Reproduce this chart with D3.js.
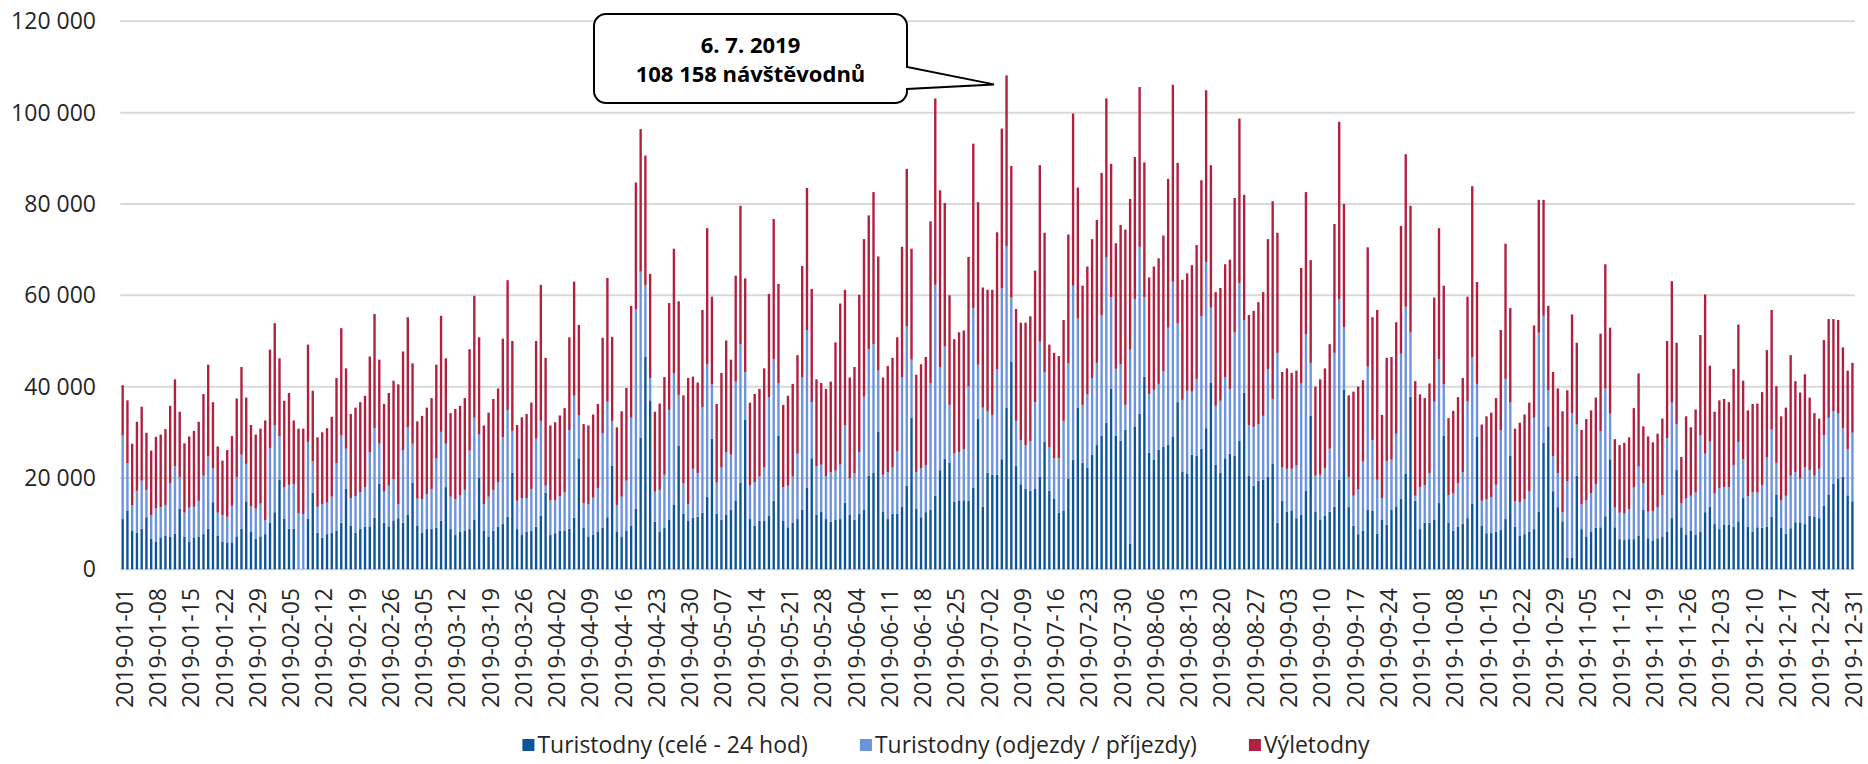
<!DOCTYPE html>
<html>
<head>
<meta charset="utf-8">
<script src="https://cdn.jsdelivr.net/npm/d3@7"></script>
<style>
  body { margin: 0; background: #fff; }
  svg { display: block; font-family: "Open Sans", "Noto Sans", sans-serif; }
</style>
</head>
<body>
<svg id="chart" width="1868" height="764"></svg>
<script>

// daily values in thousands, 2019-01-01 .. 2019-12-31 (one row = one week)
var celeDny = [
  11.0, 12.9, 8.5, 8.0, 8.9, 11.4, 6.7,
  6.1, 7.0, 7.3, 7.2, 7.8, 13.3, 7.2,
  6.1, 7.0, 7.2, 7.7, 8.9, 14.7, 7.4,
  6.1, 5.9, 5.9, 7.2, 8.9, 14.9, 8.3,
  6.7, 7.2, 7.7, 10.2, 12.5, 19.6, 11.1,
  8.9, 8.9, 0, 0, 11.1, 16.8, 8.0,
  6.9, 7.7, 8.0, 8.5, 10.2, 17.6, 9.5,
  8.0, 8.9, 9.3, 9.4, 11.3, 18.7, 10.2,
  9.4, 10.7, 11.2, 10.2, 12.0, 19.0, 9.6,
  8.0, 8.8, 8.9, 9.1, 10.6, 18.0, 8.8,
  7.5, 8.2, 8.4, 8.8, 10.8, 20.0, 8.4,
  7.2, 8.4, 9.3, 9.9, 11.5, 21.2, 8.8,
  7.5, 8.2, 8.4, 9.3, 11.7, 16.8, 7.5,
  7.9, 8.5, 8.5, 8.9, 11.3, 24.3, 9.1,
  7.2, 7.6, 8.3, 9.1, 11.4, 22.7, 8.3,
  7.2, 8.5, 9.6, 13.3, 28.8, 46.5, 37.0,
  10.4, 8.3, 9.1, 10.9, 14.2, 27.1, 12.2,
  10.7, 11.3, 11.5, 12.4, 15.9, 28.6, 12.2,
  10.9, 12.0, 13.1, 15.1, 19.0, 32.8, 11.0,
  9.6, 10.6, 10.6, 11.7, 15.0, 29.2, 10.6,
  9.2, 10.2, 11.0, 13.0, 17.9, 24.3, 11.9,
  12.6, 11.0, 10.4, 10.8, 11.0, 14.6, 11.9,
  10.8, 12.1, 13.0, 20.5, 21.1, 30.2, 12.6,
  11.0, 12.2, 12.2, 13.7, 18.3, 33.2, 13.2,
  11.4, 12.5, 13.0, 16.1, 21.7, 24.2, 23.3,
  14.8, 15.1, 15.1, 15.0, 17.9, 32.9, 13.7,
  21.1, 20.7, 20.7, 24.1, 35.4, 45.4, 22.6,
  18.6, 17.6, 17.2, 17.6, 20.2, 27.9, 17.2,
  15.4, 12.4, 12.9, 19.8, 24.0, 35.4, 23.3,
  22.2, 25.1, 27.2, 29.3, 32.1, 39.6, 29.3,
  28.2, 30.6, 5.6, 31.3, 34.1, 42.2, 25.5,
  24.0, 26.2, 26.8, 27.2, 29.1, 36.6, 21.3,
  20.9, 25.1, 24.8, 26.4, 30.9, 40.8, 22.9,
  21.1, 24.3, 25.3, 24.8, 28.2, 38.7, 20.5,
  18.3, 19.4, 19.6, 20.2, 23.2, 10.2, 15.0,
  12.6, 12.9, 11.2, 11.9, 17.2, 33.6, 12.6,
  10.8, 11.7, 12.6, 13.7, 19.6, 39.3, 13.7,
  9.5, 7.7, 8.4, 13.0, 12.8, 7.8, 10.8,
  9.8, 13.0, 13.8, 15.4, 21.0, 37.8, 15.0,
  8.8, 10.2, 10.2, 10.8, 14.5, 29.3, 10.2,
  8.4, 9.3, 10.0, 11.2, 14.4, 29.1, 9.6,
  7.9, 8.0, 8.2, 8.6, 11.0, 24.8, 9.3,
  7.3, 7.7, 8.2, 8.8, 12.6, 27.7, 31.3,
  17.1, 13.6, 10.5, 2.5, 2.6, 20.5, 8.8,
  7.2, 8.3, 9.1, 9.2, 11.6, 24.1, 9.2,
  6.6, 6.4, 6.6, 6.6, 7.4, 13.1, 6.8,
  6.2, 6.8, 7.2, 8.2, 11.2, 21.8, 9.2,
  7.5, 8.5, 7.5, 8.2, 12.5, 13.7, 9.9,
  8.8, 9.7, 9.7, 9.3, 10.5, 15.6, 9.3,
  8.3, 9.2, 9.1, 9.3, 11.5, 16.4, 9.1,
  7.8, 9.0, 10.3, 10.3, 9.9, 11.7, 11.5,
  11.2, 13.9, 16.4, 18.7, 19.9, 20.2, 16.2,
  14.9
];

var odjezdyDny = [
  18.3, 10.3, 5.5, 9.2, 10.5, 6.0, 5.2,
  7.3, 6.6, 6.8, 11.6, 14.8, 6.9, 5.2,
  7.4, 6.7, 7.8, 12.8, 15.8, 7.4, 5.0,
  5.8, 5.6, 8.0, 13.0, 16.2, 8.2, 5.5,
  6.6, 7.2, 3.1, 16.3, 19.1, 9.5, 6.9,
  9.6, 9.7, 12.3, 12.1, 16.8, 6.9, 5.7,
  7.4, 6.9, 7.9, 14.7, 19.2, 8.8, 6.1,
  8.0, 8.0, 8.7, 16.2, 19.6, 8.8, 6.8,
  8.9, 9.0, 3.0, 15.8, 19.1, 8.5, 5.9,
  7.4, 7.7, 8.6, 15.2, 19.5, 9.5, 7.1,
  7.8, 8.0, 9.0, 17.2, 22.4, 9.5, 5.9,
  8.7, 9.0, 9.8, 19.0, 23.4, 9.1, 6.2,
  8.1, 7.4, 9.2, 19.3, 20.8, 1.5, 7.6,
  7.2, 7.5, 8.4, 21.6, 26.7, 9.4, 5.4,
  7.1, 8.1, 9.5, 20.7, 25.3, 9.8, 5.8,
  8.7, 10.9, 23.6, 43.7, 36.4, 15.7, 4.9,
  6.6, 9.1, 11.6, 24.0, 28.7, 11.1, 6.7,
  3.6, 10.7, 9.6, 23.1, 29.0, 11.9, 6.8,
  11.5, 13.7, 12.0, 26.0, 30.3, 10.4, 7.4,
  9.5, 9.7, 11.8, 26.0, 31.0, 11.6, 7.4,
  9.1, 10.1, 14.3, 29.1, 34.5, 12.3, 10.7,
  10.3, 9.4, 10.9, 10.8, 12.0, 17.0, 8.0,
  10.2, 13.6, 24.8, 27.7, 28.2, 13.3, 8.1,
  10.3, 10.1, 13.7, 28.4, 34.9, 12.7, 8.1,
  10.7, 10.3, 27.8, 46.2, 22.6, 24.6, 12.7,
  10.6, 10.6, 11.2, 25.0, 39.3, 11.9, 21.7,
  13.5, 13.1, 23.1, 37.4, 35.4, 14.1, 9.9,
  9.7, 9.6, 10.9, 19.0, 29.7, 15.3, 9.5,
  8.9, 11.9, 19.6, 25.3, 38.1, 19.5, 12.7,
  16.1, 16.8, 18.0, 26.4, 36.2, 20.0, 14.6,
  16.7, 5.4, 42.5, 27.9, 36.5, 17.4, 12.9,
  15.3, 14.4, 16.6, 25.7, 33.9, 17.3, 15.8,
  18.2, 13.8, 16.9, 29.0, 36.4, 16.5, 12.9,
  15.8, 17.8, 14.2, 27.1, 34.5, 15.9, 11.1,
  12.9, 12.4, 14.0, 23.6, 14.1, 37.2, 7.4,
  9.4, 9.1, 11.6, 28.9, 34.3, 11.6, 7.9,
  9.9, 10.4, 13.8, 33.7, 39.6, 13.7, 6.5,
  6.6, 9.8, 15.2, 31.4, 15.5, 11.8, 4.8,
  13.9, 11.0, 15.9, 31.8, 36.5, 14.1, 1.1,
  9.2, 8.2, 10.8, 25.9, 31.5, 11.2, 6.0,
  8.3, 9.6, 11.3, 25.6, 32.1, 11.5, 5.4,
  7.4, 7.8, 10.3, 21.9, 30.7, 11.7, 5.6,
  7.4, 7.7, 8.9, 24.4, 39.2, 27.8, 7.9,
  7.7, 7.5, 2.0, 16.8, 31.6, 11.2, 5.4,
  7.9, 8.4, 9.5, 21.0, 28.0, 10.0, 4.3,
  5.8, 5.8, 6.5, 11.3, 15.1, 5.7, 5.8,
  6.5, 6.7, 9.0, 20.5, 25.3, 10.0, 5.3,
  8.0, 7.6, 9.3, 21.2, 12.8, 14.3, 6.7,
  9.0, 8.3, 8.3, 13.5, 17.4, 8.5, 6.7,
  8.6, 7.6, 9.3, 15.2, 19.1, 6.9, 6.0,
  8.3, 11.5, 11.0, 9.6, 12.4, 10.0, 9.0,
  10.8, 15.5, 16.8, 15.9, 14.2, 10.7, 10.1,
  15.0
];

var vyletyDny = [
  11.0, 13.8, 13.5, 15.1, 16.2, 12.5, 14.1,
  15.6, 15.9, 16.6, 17.0, 19.0, 14.3, 15.2,
  15.6, 16.6, 17.3, 17.9, 20.1, 14.5, 14.5,
  11.9, 14.6, 15.3, 17.2, 19.2, 14.5, 17.8,
  16.2, 16.4, 21.8, 21.6, 22.3, 17.1, 18.9,
  20.1, 14.0, 18.5, 18.7, 21.3, 15.4, 15.2,
  15.7, 16.3, 17.5, 18.7, 23.4, 17.6, 18.4,
  19.4, 19.7, 20.0, 21.0, 25.0, 18.4, 19.2,
  20.3, 21.6, 26.3, 21.7, 24.1, 17.6, 16.9,
  18.2, 18.9, 20.0, 20.5, 25.4, 18.7, 18.3,
  19.8, 19.6, 20.1, 22.2, 26.7, 21.3, 17.2,
  18.4, 19.9, 20.5, 21.6, 28.4, 19.7, 16.6,
  17.7, 18.4, 18.9, 21.4, 29.8, 28.0, 16.4,
  17.1, 17.7, 18.4, 20.3, 25.0, 19.8, 17.3,
  17.2, 18.2, 18.4, 20.9, 27.1, 18.4, 17.0,
  18.7, 20.3, 24.5, 27.7, 31.2, 28.4, 22.8,
  17.5, 18.9, 21.4, 23.4, 27.3, 20.5, 19.2,
  27.6, 20.2, 19.8, 21.3, 29.8, 19.2, 17.2,
  20.6, 24.4, 20.8, 23.2, 30.3, 20.5, 18.1,
  19.3, 19.2, 21.6, 22.6, 30.7, 21.7, 18.0,
  19.7, 20.3, 21.6, 24.3, 31.1, 24.8, 19.0,
  17.9, 19.1, 19.8, 28.1, 35.2, 29.6, 22.1,
  23.3, 34.4, 34.5, 29.3, 33.3, 25.0, 21.3,
  23.2, 24.0, 24.9, 28.5, 34.5, 24.3, 21.3,
  22.8, 23.7, 35.4, 40.8, 38.7, 31.4, 24.0,
  25.0, 26.2, 26.0, 28.4, 36.0, 35.6, 26.3,
  26.6, 27.4, 30.0, 35.0, 37.358, 28.8, 24.5,
  25.7, 26.8, 27.3, 28.8, 38.6, 30.5, 22.5,
  23.1, 22.4, 22.1, 28.2, 37.7, 28.7, 26.1,
  28.0, 30.4, 31.3, 31.1, 34.8, 29.2, 27.5,
  30.5, 38.4, 33.0, 31.1, 35.0, 29.5, 25.5,
  27.0, 27.5, 29.7, 32.6, 43.1, 35.1, 26.3,
  25.7, 27.7, 29.3, 29.8, 37.6, 31.2, 24.9,
  24.7, 24.7, 28.3, 29.4, 36.0, 27.4, 24.1,
  25.4, 26.7, 27.1, 28.5, 43.3, 26.3, 20.8,
  22.0, 21.0, 20.7, 25.2, 31.1, 22.5, 19.5,
  20.9, 21.9, 22.9, 28.2, 38.8, 27.0, 17.9,
  22.8, 22.5, 17.8, 26.1, 26.9, 37.2, 18.2,
  22.6, 22.5, 24.4, 28.0, 33.4, 27.7, 25.1,
  20.3, 19.1, 19.7, 22.8, 28.7, 21.6, 16.9,
  18.0, 18.8, 20.6, 22.9, 37.4, 22.3, 16.7,
  18.2, 18.5, 19.0, 21.9, 29.6, 20.7, 15.9,
  17.4, 18.5, 19.4, 20.2, 29.1, 25.4, 18.5,
  18.4, 18.5, 22.1, 19.9, 21.6, 17.9, 16.3,
  17.8, 18.1, 19.0, 21.4, 27.2, 18.8, 15.0,
  14.8, 15.5, 15.8, 17.4, 20.4, 12.5, 16.5,
  15.1, 16.2, 16.8, 21.3, 26.6, 17.8, 10.1,
  18.0, 15.0, 18.2, 21.9, 34.9, 16.6, 17.9,
  19.2, 19.3, 18.6, 21.1, 25.7, 17.2, 18.8,
  19.3, 19.5, 20.4, 23.5, 26.2, 16.8, 18.4,
  19.3, 26.4, 19.9, 18.8, 20.4, 15.9, 13.7,
  11.0, 20.8, 21.6, 20.2, 20.5, 17.7, 17.2,
  15.3
];

var seriesNames = ["Turistodny (celé - 24 hod)", "Turistodny (odjezdy / příjezdy)", "Výletodny"];
var seriesColors = ["#0d5598", "#6b94dc", "#b0203f"];
var yTicks = [0, 20, 40, 60, 80, 100, 120];
var calloutLines = ["6. 7. 2019", "108 158 návštěvodnů"];
var calloutDay = 186;

var days = d3.utcDay.range(new Date(Date.UTC(2019, 0, 1)), new Date(Date.UTC(2020, 0, 1)));
var fmtDay = d3.utcFormat("%Y-%m-%d");
var tickDays = d3.range(0, days.length, 7);

var svg = d3.select("#chart");

var x = d3.scaleBand()
  .domain(d3.range(days.length))
  .range([120.3, 1854.8])
  .paddingInner(0.5)
  .paddingOuter(0.25);

var y = d3.scaleLinear()
  .domain([0, 120])
  .range([569.3, 21.3]);

// gridlines
svg.append("g").selectAll("line")
  .data(yTicks)
  .enter().append("line")
  .attr("x1", 120.3).attr("x2", 1854.8)
  .attr("y1", function(d) { return y(d); })
  .attr("y2", function(d) { return y(d); })
  .attr("stroke", "#d9d9d9")
  .attr("stroke-width", 2);

// y labels
svg.append("g").selectAll("text")
  .data(yTicks)
  .enter().append("text")
  .attr("x", 96)
  .attr("y", function(d) { return y(d); })
  .attr("dy", "0.35em")
  .attr("text-anchor", "end")
  .attr("font-size", 23)
  .attr("fill", "#262626")
  .text(function(d) { return d === 0 ? "0" : d + " 000"; });

// stacked bars
var table = days.map(function(d, i) {
  return { i: i, s0: celeDny[i], s1: odjezdyDny[i], s2: vyletyDny[i] };
});
var stack = d3.stack().keys(["s0", "s1", "s2"])(table);

svg.append("g").selectAll("g")
  .data(stack)
  .enter().append("g")
  .attr("fill", function(d, k) { return seriesColors[k]; })
  .selectAll("rect")
  .data(function(d) { return d; })
  .enter().append("rect")
  .attr("x", function(d) { return x(d.data.i); })
  .attr("width", x.bandwidth())
  .attr("y", function(d) { return y(d[1]); })
  .attr("height", function(d) { return Math.max(0, y(d[0]) - y(d[1])); });

// x labels
svg.append("g").selectAll("text")
  .data(tickDays)
  .enter().append("text")
  .attr("transform", function(d) {
    return "translate(" + (x(d) + x.bandwidth() / 2 + 2) + ",588) rotate(-90)";
  })
  .attr("dy", "0.35em")
  .attr("text-anchor", "end")
  .attr("font-size", 23)
  .attr("fill", "#262626")
  .text(function(d) { return fmtDay(days[d]); });

// callout
var bx0 = 594, by0 = 14, bx1 = 907, by1 = 103, r = 12;
var tipX = x(calloutDay) + x.bandwidth() / 2 - 12.6;
var tipY = y(celeDny[calloutDay] + odjezdyDny[calloutDay] + vyletyDny[calloutDay]) + 9;
var path = "M" + (bx0 + r) + "," + by0 +
  " H" + (bx1 - r) +
  " A" + r + "," + r + " 0 0 1 " + bx1 + "," + (by0 + r) +
  " V67 L" + tipX + "," + tipY + " L" + bx1 + ",89" +
  " V" + (by1 - r) +
  " A" + r + "," + r + " 0 0 1 " + (bx1 - r) + "," + by1 +
  " H" + (bx0 + r) +
  " A" + r + "," + r + " 0 0 1 " + bx0 + "," + (by1 - r) +
  " V" + (by0 + r) +
  " A" + r + "," + r + " 0 0 1 " + (bx0 + r) + "," + by0 + " Z";
svg.append("path")
  .attr("d", path)
  .attr("fill", "#fff")
  .attr("stroke", "#000")
  .attr("stroke-width", 2);

svg.append("g").selectAll("text")
  .data(calloutLines)
  .enter().append("text")
  .attr("x", (bx0 + bx1) / 2)
  .attr("y", function(d, i) { return 53 + i * 29; })
  .attr("text-anchor", "middle")
  .attr("font-size", 22)
  .attr("font-weight", "bold")
  .attr("fill", "#000")
  .text(function(d) { return d; });

// legend, centred
var legend = svg.append("g");
var items = legend.selectAll("g")
  .data(seriesNames)
  .enter().append("g");
items.append("rect")
  .attr("width", 12).attr("height", 12)
  .attr("y", -6)
  .attr("fill", function(d, i) { return seriesColors[i]; });
items.append("text")
  .attr("x", 15)
  .attr("dy", "0.35em")
  .attr("font-size", 23)
  .attr("fill", "#262626")
  .text(function(d) { return d; });

var pos = 0;
var offsets = [];
items.each(function() {
  offsets.push(pos);
  pos += 15 + d3.select(this).select("text").node().getComputedTextLength() + 52;
});
var total = pos - 52;
var startX = 946 - total / 2;
items.attr("transform", function(d, i) { return "translate(" + (startX + offsets[i]) + ",745)"; });

</script>
</body>
</html>
